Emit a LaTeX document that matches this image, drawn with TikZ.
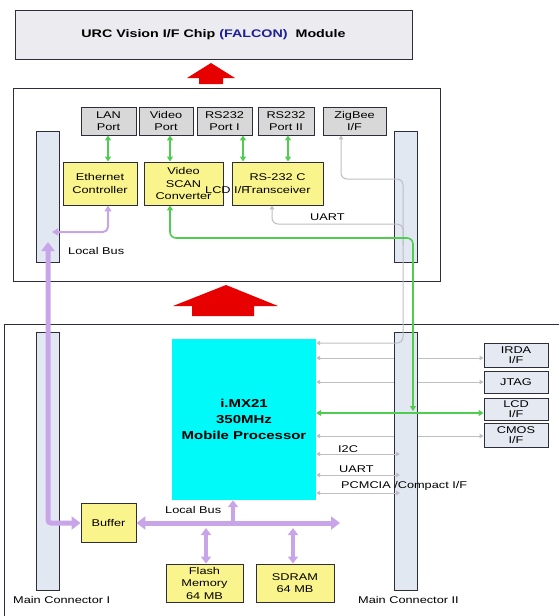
\documentclass[tikz,border=0pt]{standalone}
\usepackage{fontspec}
\setmainfont[FakeStretch=1.3]{Liberation Sans}
\usetikzlibrary{arrows.meta}
\definecolor{boxborder}{RGB}{45,45,60}
\definecolor{topfill}{RGB}{236,236,240}
\definecolor{portfill}{RGB}{216,216,216}
\definecolor{yel}{RGB}{250,244,140}
\definecolor{barfill}{RGB}{226,232,242}
\definecolor{cpufill}{RGB}{0,250,250}
\definecolor{iffill}{RGB}{228,233,242}
\definecolor{purp}{RGB}{200,165,232}
\definecolor{grn}{RGB}{80,205,80}
\definecolor{gry}{RGB}{190,190,196}
\definecolor{redar}{RGB}{230,0,0}
\definecolor{navyt}{RGB}{30,30,150}
\begin{document}
\begin{tikzpicture}[x=1pt,y=-1pt,
  base/.style={draw=boxborder, line width=0.9pt, inner sep=1pt, align=center, font=\fontsize{9.8}{12.5}\selectfont},
  portbox/.style={base, fill=portfill, minimum height=28pt},
  yelbox/.style={base, fill=yel},
  barbox/.style={draw=boxborder, line width=0.9pt, fill=barfill, minimum width=23pt, inner sep=0pt},
  ifbox/.style={base, fill=iffill, minimum width=64pt, font=\fontsize{9.8}{10.5}\selectfont},
  lbl/.style={font=\fontsize{9.8}{12}\selectfont, inner sep=0pt, anchor=west},
  gline/.style={draw=grn, line width=1.6pt},
  garr/.style={gline, arrows={Triangle[length=5pt,width=6pt]-Triangle[length=5pt,width=6pt]}},
  grline/.style={draw=gry, line width=1pt},
  grarr/.style={grline, arrows={Triangle[length=4pt,width=4.5pt]-Triangle[length=4pt,width=4.5pt]}},
  pthick/.style={draw=purp, line width=5pt, arrows={Triangle[length=9pt,width=13pt]-Triangle[length=9pt,width=13pt]}},
  pmed/.style={draw=purp, line width=3.5pt},
  ptip/.style={arrows={Triangle[length=7pt,width=10pt]-Triangle[length=7pt,width=10pt]}},
  pthin/.style={draw=purp, line width=2pt, arrows={Triangle[length=6pt,width=7pt]-Triangle[length=6pt,width=7pt]}},
  boxline/.style={draw=boxborder, line width=1pt}
]
\useasboundingbox (0,0) rectangle (559,616);

% outer boxes
\node[base, fill=topfill, minimum width=397pt, minimum height=49pt, font=\bfseries\fontsize{11}{12}\selectfont] (title) at (213.5,34.5) {URC Vision I/F Chip \textcolor{navyt}{(FALCON)}\ \ Module};
\node[boxline, draw, minimum width=427pt, minimum height=193pt, inner sep=0pt] (midbox) at (226.5,184.5) {};
\draw[boxline] (4,616) -- (4,324) -- (559,324);

% red arrows
\fill[redar] (199,84) -- (199,78) -- (187,78) -- (211,63) -- (235,78) -- (223,78) -- (223,84) -- cycle;
\fill[redar] (192,316) -- (192,306) -- (173,306) -- (226,285) -- (278,306) -- (254,306) -- (254,316) -- cycle;

% ports
\node[portbox, minimum width=55pt] (lan) at (108.5,121) {LAN\\Port};
\node[portbox, minimum width=54pt] (vport) at (166,121) {Video\\Port};
\node[portbox, minimum width=55pt] (rs1) at (224.5,121) {RS232\\Port I};
\node[portbox, minimum width=56pt] (rs2) at (286,121) {RS232\\Port II};
\node[portbox, minimum width=63pt] (zig) at (354.5,121) {ZigBee\\I/F};

% yellow boxes (middle)
\node[yelbox, minimum width=74pt, minimum height=43pt] (eth) at (100,183.5) {Ethernet\\Controller};
\node[yelbox, minimum width=79pt, minimum height=43pt] (vsc) at (183.5,183.5) {Video\\SCAN\\Converter};
\node[yelbox, minimum width=91pt, minimum height=43pt] (rsc) at (277.5,183.5) {RS-232 C\\Transceiver};

% processor
\node[draw=none, fill=cpufill, minimum width=144pt, minimum height=161pt, align=center, font=\bfseries\fontsize{11.5}{16}\selectfont] (cpu) at (244,419.5) {i.MX21\\350MHz\\Mobile Processor};

% interface boxes
\node[ifbox, minimum height=24pt] (irda) at (516,355) {IRDA\\I/F};
\node[ifbox, minimum height=22pt] (jtag) at (516,382) {JTAG};
\node[ifbox, minimum height=22pt] (lcdif) at (516,409) {LCD\\I/F};
\node[ifbox, minimum height=24pt] (cmos) at (516,435) {CMOS\\I/F};

% lower yellow boxes
\node[yelbox, minimum width=55pt, minimum height=39pt] (buf) at (108.5,523) {Buffer};
\node[yelbox, minimum width=77pt, minimum height=38pt] (flash) at (204.5,583) {Flash\\Memory\\64 MB};
\node[yelbox, minimum width=78pt, minimum height=38pt] (sdram) at (295,583) {SDRAM\\64 MB};

% helper coordinates
\coordinate (xl) at (108,0);
\coordinate (xv) at (170,0);
\coordinate (xr1) at (243,0);
\coordinate (xr2) at (288,0);
\coordinate (xz) at (341,0);
\coordinate (xu) at (272,0);
\coordinate (xgr) at (403,0);
\coordinate (xg) at (413,0);
\coordinate (xbar) at (400,0);
\coordinate (xpb) at (48,0);
\coordinate (xc) at (233,0);
\coordinate (xf) at (206,0);
\coordinate (xs) at (293,0);
\coordinate (xbusR) at (340,0);
\coordinate (mLin) at (52,0);
\coordinate (yP) at (0,232);
\coordinate (yG) at (0,238);
\coordinate (yZ) at (0,179);
\coordinate (yU) at (0,224);
\coordinate (yU2) at (0,245);
\coordinate (yZ2) at (0,343);
\coordinate (yIr) at (0,358);
\coordinate (yJt) at (0,382);
\coordinate (yLc) at (0,413);
\coordinate (yGe) at (0,411);
\coordinate (yCm) at (0,436);
\coordinate (yI2) at (0,454);
\coordinate (yUa) at (0,475);
\coordinate (yPc) at (0,493);
\coordinate (yPT) at (0,242);
\coordinate (yBl) at (0,528);

% gray lines passing under the connector bar
\draw[grarr] (cpu.east |- yIr) -- (irda.west |- yIr);
\draw[grarr] (cpu.east |- yJt) -- (jtag.west |- yJt);
\draw[grarr] (cpu.east |- yCm) -- (cmos.west |- yCm);

% connector bars
\node[barbox, minimum height=131pt] (midL) at (47.5,196.5) {};
\node[barbox, minimum height=131pt] (midR) at (405.5,196.5) {};
\node[barbox, minimum height=258pt] (lowL) at (47.5,461) {};
\node[barbox, minimum height=258pt] (lowR) at (405.5,461) {};

% green port links
\draw[garr] (lan.south -| xl) -- (eth.north -| xl);
\draw[garr] (vport.south -| xv) -- (vsc.north -| xv);
\draw[garr] (rs1.south -| xr1) -- (rsc.north -| xr1);
\draw[garr] (rs2.south -| xr2) -- (rsc.north -| xr2);

% gray signal lines
\draw[grarr, rounded corners=6pt] (zig.south -| xz) -- (xz |- yZ) -- (xgr |- yZ) -- (xgr |- yZ2) -- (cpu.east |- yZ2);
\draw[grline, arrows={Triangle[length=4pt,width=4.5pt]-}, rounded corners=6pt] (rsc.south -| xu) -- (xu |- yU) -- (xgr |- yU) -- (xgr |- yU2);
\draw[grarr] (cpu.east |- yI2) -- (xbar |- yI2);
\draw[grarr] (cpu.east |- yUa) -- (xbar |- yUa);
\draw[grarr] (cpu.east |- yPc) -- (xbar |- yPc);

% green LCD path
\draw[garr, rounded corners=6pt] (vsc.south -| xv) -- (xv |- yG) -- (xg |- yG) -- (xg |- yGe);
\draw[garr] (cpu.east |- yLc) -- (lcdif.west |- yLc);

% purple buses
\draw[pthin, rounded corners=5pt] (eth.south -| xl) -- (xl |- yP) -- (mLin |- yP);
\draw[pthick, rounded corners=3pt] (buf.west) -- (xpb |- buf.west) -- (xpb |- yPT);
\draw[pthick] (buf.east) -- (buf.east -| xbusR);
\draw[pmed, arrows={-Triangle[length=7pt,width=10pt]}] (xc |- buf.east) -- (cpu.south -| xc);
\draw[pmed, ptip] (yBl -| xf) -- (flash.north -| xf);
\draw[pmed, ptip] (yBl -| xs) -- (sdram.north -| xs);

% labels
\node[lbl] (lbMid) at (68,251) {Local Bus};
\node[lbl] (lcdlbl) at (205,190) {LCD I/F};
\node[lbl] (uartM) at (310,217) {UART};
\node[lbl] (i2c) at (338,449) {I2C};
\node[lbl] (uartL) at (339,469) {UART};
\node[lbl] (pcm) at (341,486) {PCMCIA /Compact I/F};
\node[lbl] (lbLow) at (165,510) {Local Bus};
\node[lbl] (mc1) at (13,600) {Main Connector I};
\node[lbl] (mc2) at (358,600) {Main Connector II};
\end{tikzpicture}
\end{document}
